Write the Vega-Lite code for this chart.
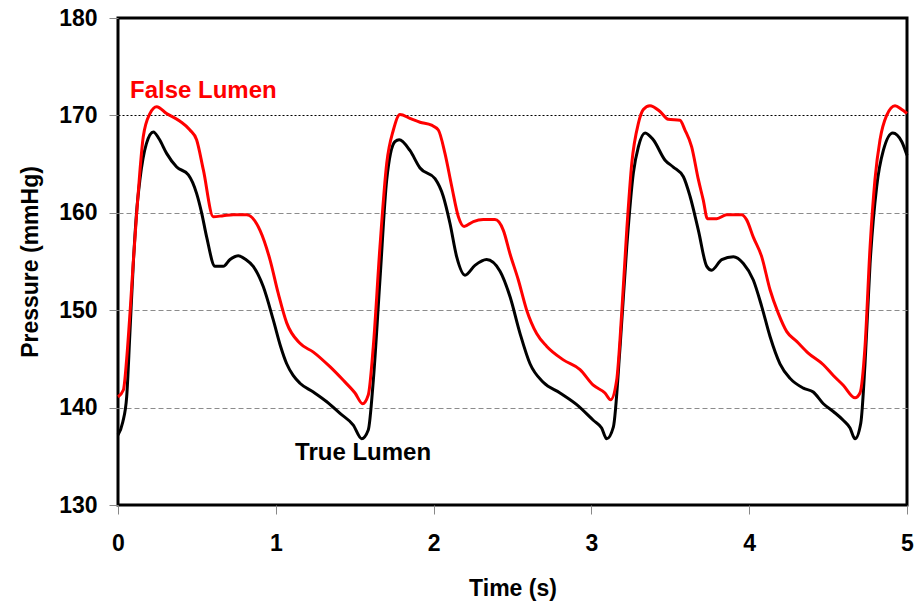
{
  "$schema": "https://vega.github.io/schema/vega-lite/v6.json",
  "autosize": "none",
  "width": 789,
  "height": 487,
  "padding": {"left": 118, "top": 18, "right": 17, "bottom": 98},
  "background": "white",
  "config": {
    "view": {"stroke": "black", "strokeWidth": 3},
    "font": "Liberation Sans"
  },
  "datasets": {
    "curves": [
      {"t": 0, "p": 137.2, "series": "True Lumen"},
      {"t": 0.03, "p": 138.5, "series": "True Lumen"},
      {"t": 0.055, "p": 141.1, "series": "True Lumen"},
      {"t": 0.075, "p": 147.5, "series": "True Lumen"},
      {"t": 0.097, "p": 154.8, "series": "True Lumen"},
      {"t": 0.12, "p": 160.5, "series": "True Lumen"},
      {"t": 0.139, "p": 163.4, "series": "True Lumen"},
      {"t": 0.18, "p": 167.1, "series": "True Lumen"},
      {"t": 0.224, "p": 168.3, "series": "True Lumen"},
      {"t": 0.26, "p": 167.6, "series": "True Lumen"},
      {"t": 0.308, "p": 166.1, "series": "True Lumen"},
      {"t": 0.372, "p": 164.7, "series": "True Lumen"},
      {"t": 0.446, "p": 163.9, "series": "True Lumen"},
      {"t": 0.498, "p": 162.0, "series": "True Lumen"},
      {"t": 0.53, "p": 160.0, "series": "True Lumen"},
      {"t": 0.562, "p": 157.5, "series": "True Lumen"},
      {"t": 0.615, "p": 154.5, "series": "True Lumen"},
      {"t": 0.667, "p": 154.5, "series": "True Lumen"},
      {"t": 0.71, "p": 155.2, "series": "True Lumen"},
      {"t": 0.762, "p": 155.6, "series": "True Lumen"},
      {"t": 0.81, "p": 155.2, "series": "True Lumen"},
      {"t": 0.857, "p": 154.5, "series": "True Lumen"},
      {"t": 0.921, "p": 152.4, "series": "True Lumen"},
      {"t": 0.984, "p": 149.0, "series": "True Lumen"},
      {"t": 1.03, "p": 146.3, "series": "True Lumen"},
      {"t": 1.069, "p": 144.5, "series": "True Lumen"},
      {"t": 1.11, "p": 143.3, "series": "True Lumen"},
      {"t": 1.153, "p": 142.5, "series": "True Lumen"},
      {"t": 1.238, "p": 141.6, "series": "True Lumen"},
      {"t": 1.323, "p": 140.6, "series": "True Lumen"},
      {"t": 1.407, "p": 139.4, "series": "True Lumen"},
      {"t": 1.491, "p": 138.2, "series": "True Lumen"},
      {"t": 1.544, "p": 136.8, "series": "True Lumen"},
      {"t": 1.586, "p": 137.7, "series": "True Lumen"},
      {"t": 1.618, "p": 142.8, "series": "True Lumen"},
      {"t": 1.66, "p": 153.1, "series": "True Lumen"},
      {"t": 1.703, "p": 163.4, "series": "True Lumen"},
      {"t": 1.755, "p": 167.3, "series": "True Lumen"},
      {"t": 1.782, "p": 167.5, "series": "True Lumen"},
      {"t": 1.85, "p": 166.4, "series": "True Lumen"},
      {"t": 1.914, "p": 164.6, "series": "True Lumen"},
      {"t": 2.009, "p": 163.5, "series": "True Lumen"},
      {"t": 2.061, "p": 161.7, "series": "True Lumen"},
      {"t": 2.104, "p": 158.9, "series": "True Lumen"},
      {"t": 2.146, "p": 155.5, "series": "True Lumen"},
      {"t": 2.199, "p": 153.6, "series": "True Lumen"},
      {"t": 2.262, "p": 154.6, "series": "True Lumen"},
      {"t": 2.336, "p": 155.2, "series": "True Lumen"},
      {"t": 2.421, "p": 154.0, "series": "True Lumen"},
      {"t": 2.484, "p": 151.4, "series": "True Lumen"},
      {"t": 2.548, "p": 147.6, "series": "True Lumen"},
      {"t": 2.611, "p": 144.5, "series": "True Lumen"},
      {"t": 2.695, "p": 142.6, "series": "True Lumen"},
      {"t": 2.801, "p": 141.5, "series": "True Lumen"},
      {"t": 2.907, "p": 140.3, "series": "True Lumen"},
      {"t": 3.012, "p": 138.7, "series": "True Lumen"},
      {"t": 3.065, "p": 137.9, "series": "True Lumen"},
      {"t": 3.097, "p": 136.8, "series": "True Lumen"},
      {"t": 3.139, "p": 138.0, "series": "True Lumen"},
      {"t": 3.182, "p": 146.3, "series": "True Lumen"},
      {"t": 3.224, "p": 156.5, "series": "True Lumen"},
      {"t": 3.266, "p": 164.1, "series": "True Lumen"},
      {"t": 3.298, "p": 166.8, "series": "True Lumen"},
      {"t": 3.34, "p": 168.2, "series": "True Lumen"},
      {"t": 3.392, "p": 167.5, "series": "True Lumen"},
      {"t": 3.467, "p": 165.4, "series": "True Lumen"},
      {"t": 3.519, "p": 164.7, "series": "True Lumen"},
      {"t": 3.583, "p": 163.7, "series": "True Lumen"},
      {"t": 3.625, "p": 161.7, "series": "True Lumen"},
      {"t": 3.678, "p": 158.2, "series": "True Lumen"},
      {"t": 3.731, "p": 154.5, "series": "True Lumen"},
      {"t": 3.762, "p": 154.1, "series": "True Lumen"},
      {"t": 3.826, "p": 155.2, "series": "True Lumen"},
      {"t": 3.9, "p": 155.5, "series": "True Lumen"},
      {"t": 3.963, "p": 154.8, "series": "True Lumen"},
      {"t": 4.026, "p": 153.1, "series": "True Lumen"},
      {"t": 4.079, "p": 150.4, "series": "True Lumen"},
      {"t": 4.132, "p": 147.3, "series": "True Lumen"},
      {"t": 4.195, "p": 144.5, "series": "True Lumen"},
      {"t": 4.259, "p": 143.0, "series": "True Lumen"},
      {"t": 4.343, "p": 142.0, "series": "True Lumen"},
      {"t": 4.406, "p": 141.6, "series": "True Lumen"},
      {"t": 4.47, "p": 140.4, "series": "True Lumen"},
      {"t": 4.533, "p": 139.6, "series": "True Lumen"},
      {"t": 4.596, "p": 138.7, "series": "True Lumen"},
      {"t": 4.639, "p": 137.9, "series": "True Lumen"},
      {"t": 4.671, "p": 136.8, "series": "True Lumen"},
      {"t": 4.707, "p": 138.4, "series": "True Lumen"},
      {"t": 4.734, "p": 144.5, "series": "True Lumen"},
      {"t": 4.766, "p": 154.8, "series": "True Lumen"},
      {"t": 4.808, "p": 162.7, "series": "True Lumen"},
      {"t": 4.85, "p": 166.4, "series": "True Lumen"},
      {"t": 4.91, "p": 168.2, "series": "True Lumen"},
      {"t": 4.967, "p": 167.3, "series": "True Lumen"},
      {"t": 5.0, "p": 165.9, "series": "True Lumen"},

      {"t": 0, "p": 141.1, "series": "False Lumen"},
      {"t": 0.034, "p": 141.8, "series": "False Lumen"},
      {"t": 0.055, "p": 145.0, "series": "False Lumen"},
      {"t": 0.076, "p": 149.7, "series": "False Lumen"},
      {"t": 0.097, "p": 155.0, "series": "False Lumen"},
      {"t": 0.118, "p": 159.9, "series": "False Lumen"},
      {"t": 0.14, "p": 164.5, "series": "False Lumen"},
      {"t": 0.16, "p": 167.8, "series": "False Lumen"},
      {"t": 0.203, "p": 170.2, "series": "False Lumen"},
      {"t": 0.245, "p": 170.9, "series": "False Lumen"},
      {"t": 0.308, "p": 170.2, "series": "False Lumen"},
      {"t": 0.393, "p": 169.4, "series": "False Lumen"},
      {"t": 0.456, "p": 168.5, "series": "False Lumen"},
      {"t": 0.498, "p": 167.5, "series": "False Lumen"},
      {"t": 0.541, "p": 164.4, "series": "False Lumen"},
      {"t": 0.604, "p": 159.6, "series": "False Lumen"},
      {"t": 0.667, "p": 159.7, "series": "False Lumen"},
      {"t": 0.731, "p": 159.8, "series": "False Lumen"},
      {"t": 0.815, "p": 159.8, "series": "False Lumen"},
      {"t": 0.9, "p": 158.2, "series": "False Lumen"},
      {"t": 0.963, "p": 155.2, "series": "False Lumen"},
      {"t": 1.016, "p": 151.7, "series": "False Lumen"},
      {"t": 1.069, "p": 148.7, "series": "False Lumen"},
      {"t": 1.153, "p": 146.6, "series": "False Lumen"},
      {"t": 1.238, "p": 145.7, "series": "False Lumen"},
      {"t": 1.343, "p": 144.2, "series": "False Lumen"},
      {"t": 1.428, "p": 142.8, "series": "False Lumen"},
      {"t": 1.502, "p": 141.5, "series": "False Lumen"},
      {"t": 1.55, "p": 140.4, "series": "False Lumen"},
      {"t": 1.586, "p": 141.3, "series": "False Lumen"},
      {"t": 1.618, "p": 146.3, "series": "False Lumen"},
      {"t": 1.66, "p": 156.5, "series": "False Lumen"},
      {"t": 1.703, "p": 165.1, "series": "False Lumen"},
      {"t": 1.745, "p": 168.5, "series": "False Lumen"},
      {"t": 1.787, "p": 170.1, "series": "False Lumen"},
      {"t": 1.85, "p": 169.7, "series": "False Lumen"},
      {"t": 1.914, "p": 169.3, "series": "False Lumen"},
      {"t": 1.987, "p": 169.0, "series": "False Lumen"},
      {"t": 2.03, "p": 168.5, "series": "False Lumen"},
      {"t": 2.072, "p": 166.1, "series": "False Lumen"},
      {"t": 2.115, "p": 162.7, "series": "False Lumen"},
      {"t": 2.157, "p": 159.6, "series": "False Lumen"},
      {"t": 2.193, "p": 158.6, "series": "False Lumen"},
      {"t": 2.252, "p": 159.1, "series": "False Lumen"},
      {"t": 2.315, "p": 159.3, "series": "False Lumen"},
      {"t": 2.389, "p": 159.3, "series": "False Lumen"},
      {"t": 2.442, "p": 158.2, "series": "False Lumen"},
      {"t": 2.484, "p": 155.8, "series": "False Lumen"},
      {"t": 2.537, "p": 153.1, "series": "False Lumen"},
      {"t": 2.59, "p": 150.0, "series": "False Lumen"},
      {"t": 2.653, "p": 147.6, "series": "False Lumen"},
      {"t": 2.716, "p": 146.3, "series": "False Lumen"},
      {"t": 2.822, "p": 144.9, "series": "False Lumen"},
      {"t": 2.928, "p": 143.9, "series": "False Lumen"},
      {"t": 3.012, "p": 142.3, "series": "False Lumen"},
      {"t": 3.086, "p": 141.5, "series": "False Lumen"},
      {"t": 3.122, "p": 140.8, "series": "False Lumen"},
      {"t": 3.16, "p": 142.8, "series": "False Lumen"},
      {"t": 3.192, "p": 149.7, "series": "False Lumen"},
      {"t": 3.224, "p": 158.2, "series": "False Lumen"},
      {"t": 3.256, "p": 165.1, "series": "False Lumen"},
      {"t": 3.298, "p": 169.2, "series": "False Lumen"},
      {"t": 3.329, "p": 170.6, "series": "False Lumen"},
      {"t": 3.371, "p": 171.0, "series": "False Lumen"},
      {"t": 3.435, "p": 170.4, "series": "False Lumen"},
      {"t": 3.487, "p": 169.6, "series": "False Lumen"},
      {"t": 3.561, "p": 169.5, "series": "False Lumen"},
      {"t": 3.593, "p": 168.5, "series": "False Lumen"},
      {"t": 3.635, "p": 166.8, "series": "False Lumen"},
      {"t": 3.678, "p": 163.4, "series": "False Lumen"},
      {"t": 3.709, "p": 161.3, "series": "False Lumen"},
      {"t": 3.735, "p": 159.4, "series": "False Lumen"},
      {"t": 3.794, "p": 159.4, "series": "False Lumen"},
      {"t": 3.857, "p": 159.8, "series": "False Lumen"},
      {"t": 3.952, "p": 159.8, "series": "False Lumen"},
      {"t": 3.983, "p": 159.3, "series": "False Lumen"},
      {"t": 4.026, "p": 157.5, "series": "False Lumen"},
      {"t": 4.079, "p": 155.5, "series": "False Lumen"},
      {"t": 4.132, "p": 152.1, "series": "False Lumen"},
      {"t": 4.184, "p": 149.7, "series": "False Lumen"},
      {"t": 4.238, "p": 147.8, "series": "False Lumen"},
      {"t": 4.301, "p": 146.8, "series": "False Lumen"},
      {"t": 4.374, "p": 145.6, "series": "False Lumen"},
      {"t": 4.47, "p": 144.4, "series": "False Lumen"},
      {"t": 4.533, "p": 143.3, "series": "False Lumen"},
      {"t": 4.596, "p": 142.3, "series": "False Lumen"},
      {"t": 4.671, "p": 141.0, "series": "False Lumen"},
      {"t": 4.702, "p": 141.5, "series": "False Lumen"},
      {"t": 4.734, "p": 146.3, "series": "False Lumen"},
      {"t": 4.766, "p": 156.5, "series": "False Lumen"},
      {"t": 4.797, "p": 163.4, "series": "False Lumen"},
      {"t": 4.829, "p": 167.5, "series": "False Lumen"},
      {"t": 4.871, "p": 170.0, "series": "False Lumen"},
      {"t": 4.924, "p": 171.0, "series": "False Lumen"},
      {"t": 4.967, "p": 170.6, "series": "False Lumen"},
      {"t": 5.0, "p": 170.2, "series": "False Lumen"}
    ],
    "labels": [
      {"t": 0.076, "p": 172.5, "series": "False Lumen"},
      {"t": 1.122, "p": 135.3, "series": "True Lumen"}
    ]
  },
  "encoding": {
    "x": {
      "field": "t", "type": "quantitative",
      "scale": {"domain": [0, 5], "nice": false, "zero": false},
      "axis": {
        "title": "Time (s)", "values": [0, 1, 2, 3, 4, 5], "format": "d",
        "grid": false, "domain": false,
        "tickColor": "#888", "tickSize": 9, "tickWidth": 1,
        "labelFont": "Liberation Sans", "labelFontSize": 23, "labelFontWeight": "bold", "labelColor": "black",
        "labelPadding": 18, "labelFlush": false,
        "titleFont": "Liberation Sans", "titleFontSize": 23, "titleFontWeight": "bold", "titleColor": "black",
        "titlePadding": 22
      }
    },
    "y": {
      "field": "p", "type": "quantitative",
      "scale": {"domain": [130, 180], "nice": false, "zero": false},
      "axis": {
        "title": "Pressure (mmHg)", "values": [130, 140, 150, 160, 170, 180],
        "grid": true,
        "gridColor": {"condition": {"test": "datum.value === 170", "value": "black"}, "value": "#8c8c8c"},
        "gridDash": {"condition": {"test": "datum.value === 170", "value": [2, 2]}, "value": [5, 3]},
        "gridOpacity": {"condition": {"test": "datum.value === 130 || datum.value === 180", "value": 0}, "value": 1},
        "gridWidth": 1.2,
        "domain": false,
        "tickColor": "#888", "tickSize": 9, "tickWidth": 1,
        "labelFont": "Liberation Sans", "labelFontSize": 23, "labelFontWeight": "bold", "labelColor": "black",
        "labelPadding": 12, "labelFlush": false,
        "titleFont": "Liberation Sans", "titleFontSize": 23, "titleFontWeight": "bold", "titleColor": "black",
        "titlePadding": 16
      }
    },
    "color": {
      "field": "series", "type": "nominal",
      "scale": {"domain": ["False Lumen", "True Lumen"], "range": ["#ff0000", "#000000"]},
      "legend": null
    }
  },
  "layer": [
    {
      "data": {"name": "curves"},
      "mark": {"type": "line", "strokeWidth": 3, "interpolate": "monotone"},
      "encoding": {"detail": {"field": "series"}}
    },
    {
      "data": {"name": "labels"},
      "mark": {"type": "text", "align": "left", "baseline": "middle", "font": "Liberation Sans", "fontSize": 24, "fontWeight": "bold"},
      "encoding": {"text": {"field": "series"}}
    }
  ]
}
